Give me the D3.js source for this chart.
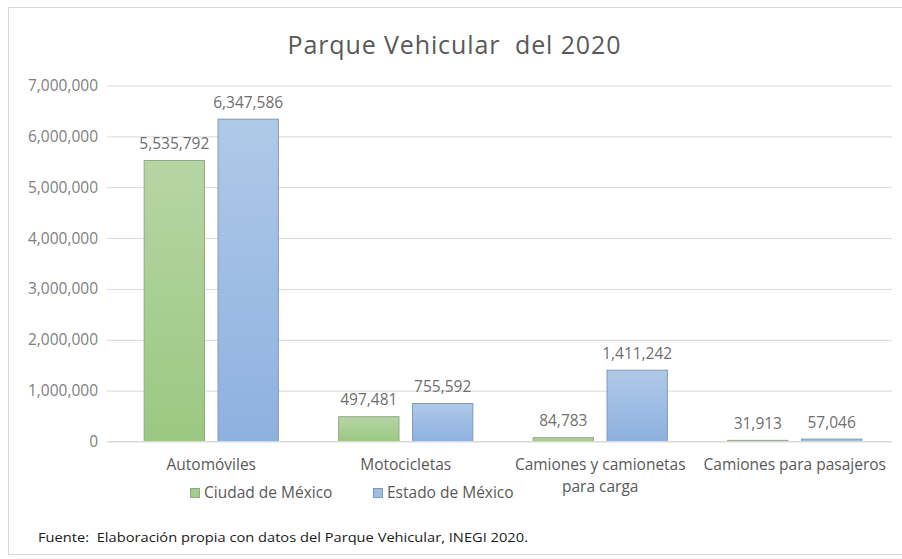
<!DOCTYPE html>
<html>
<head>
<meta charset="utf-8">
<script src="https://cdn.jsdelivr.net/npm/d3@7"></script>
<style>
  html, body { margin: 0; padding: 0; background: #fff; }
  svg { display: block; }
</style>
</head>
<body>
<svg id="chart" width="902" height="559"></svg>
<script>
// Vehicle fleet 2020 by type, Mexico City vs. State of Mexico
const categories = [
  ["Automóviles"],
  ["Motocicletas"],
  ["Camiones y camionetas", "para carga"],
  ["Camiones para pasajeros"]
];
const seriesNames = ["Ciudad de México", "Estado de México"];
const ciudadValues = [5535792, 497481, 84783, 31913];
const estadoValues = [6347586, 755592, 1411242, 57046];
const yTicks = [0, 1000000, 2000000, 3000000, 4000000, 5000000, 6000000, 7000000];

const svg = d3.select("#chart");
const W = 902, H = 559;
const plot = { left: 114, right: 892, top: 85.5, bottom: 441.5 };
const gridLeft = 107;
const textColor = "#595959";
const font = "'Open Sans', sans-serif";

// Vertical gradients for the two series
const defs = svg.append("defs");
const grads = [
  { id: "gGreen", top: "#b6d5a3", bottom: "#9bc882" },
  { id: "gBlue", top: "#afc9e8", bottom: "#8db1df" }
];
grads.forEach(g => {
  const lg = defs.append("linearGradient").attr("id", g.id)
    .attr("x1", 0).attr("y1", 0).attr("x2", 0).attr("y2", 1);
  lg.append("stop").attr("offset", "0%").attr("stop-color", g.top);
  lg.append("stop").attr("offset", "100%").attr("stop-color", g.bottom);
});
const fills = ["url(#gGreen)", "url(#gBlue)"];
const strokes = ["#8ea985", "#8099ba"];
const legendFills = ["#a5cd8e", "#9dbde4"];

// Chart frame
svg.append("rect")
  .attr("x", 8.5).attr("y", 7.5).attr("width", W).attr("height", 547)
  .attr("fill", "#fff").attr("stroke", "#d9d9d9");

// Title
svg.append("text")
  .attr("x", 454).attr("y", 54)
  .attr("text-anchor", "middle")
  .attr("font-family", font).attr("font-size", 25)
  .attr("fill", textColor)
  .attr("xml:space", "preserve")
  .attr("textLength", 333).attr("lengthAdjust", "spacing")
  .text("Parque Vehicular  del 2020");

// Scales
const x0 = d3.scaleBand()
  .domain(d3.range(categories.length))
  .range([plot.left, plot.right])
  .paddingInner(0.305).paddingOuter(0.1525);
const x1 = d3.scaleBand()
  .domain(d3.range(seriesNames.length))
  .range([0, x0.bandwidth()])
  .paddingInner(0.17);
const y = d3.scaleLinear().domain([0, 7000000]).range([plot.bottom, plot.top]);

// Gridlines and y axis labels
const yAxis = d3.axisLeft(y)
  .tickValues(yTicks)
  .tickSize(-(plot.right - gridLeft))
  .tickPadding(9)
  .tickFormat(d3.format(","));
const gy = svg.append("g").attr("transform", `translate(${gridLeft},0)`).call(yAxis);
gy.select(".domain").remove();
gy.selectAll(".tick line").attr("stroke", "#d9d9d9").attr("stroke-width", 1);
gy.selectAll(".tick text")
  .attr("font-family", font).attr("font-size", 15.5)
  .attr("fill", "#7f7f7f");

// Bars
const data = [ciudadValues, estadoValues];
const groups = svg.append("g").selectAll("g")
  .data(categories.map((c, i) => i))
  .join("g")
  .attr("transform", i => `translate(${x0(i)},0)`);

groups.selectAll("rect")
  .data(i => data.map((vals, s) => ({ s, v: vals[i] })))
  .join("rect")
  .attr("x", d => x1(d.s) + 0.5)
  .attr("y", d => y(d.v) + 0.5)
  .attr("width", x1.bandwidth() - 1)
  .attr("height", d => Math.max(0, y(0) - y(d.v) - 0.5))
  .attr("fill", d => fills[d.s])
  .attr("stroke", d => strokes[d.s]);

// Data labels
groups.selectAll("text.val")
  .data(i => data.map((vals, s) => ({ s, v: vals[i] })))
  .join("text")
  .attr("class", "val")
  .attr("x", d => x1(d.s) + x1.bandwidth() / 2)
  .attr("y", d => y(d.v) - 11)
  .attr("text-anchor", "middle")
  .attr("font-family", font).attr("font-size", 15.5)
  .attr("fill", "#6f6f6f")
  .text(d => d3.format(",")(d.v));

// Zero line over the bars
svg.append("line")
  .attr("x1", gridLeft).attr("x2", plot.right)
  .attr("y1", y(0)).attr("y2", y(0))
  .attr("stroke", "#d9d9d9");

// Category labels
const catG = svg.append("g");
categories.forEach((lines, i) => {
  lines.forEach((ln, k) => {
    catG.append("text")
      .attr("x", x0(i) + x0.bandwidth() / 2)
      .attr("y", 470 + k * 21.5)
      .attr("text-anchor", "middle")
      .attr("font-family", font).attr("font-size", 15.5)
      .attr("fill", textColor)
      .text(ln);
  });
});

// Legend
const legendX = [190, 373];
seriesNames.forEach((name, s) => {
  svg.append("rect")
    .attr("x", legendX[s] + 0.5).attr("y", 488.5)
    .attr("width", 9).attr("height", 9)
    .attr("fill", legendFills[s]).attr("stroke", strokes[s]);
  svg.append("text")
    .attr("x", legendX[s] + 14).attr("y", 498)
    .attr("font-family", font).attr("font-size", 15.5)
    .attr("fill", textColor)
    .text(name);
});

// Source note
svg.append("text")
  .attr("x", 38).attr("y", 542)
  .attr("font-family", font).attr("font-size", 12.5)
  .attr("fill", "#1a1a1a")
  .attr("xml:space", "preserve")
  .attr("textLength", 490).attr("lengthAdjust", "spacingAndGlyphs")
  .text("Fuente:  Elaboración propia con datos del Parque Vehicular, INEGI 2020.");
</script>
</body>
</html>
